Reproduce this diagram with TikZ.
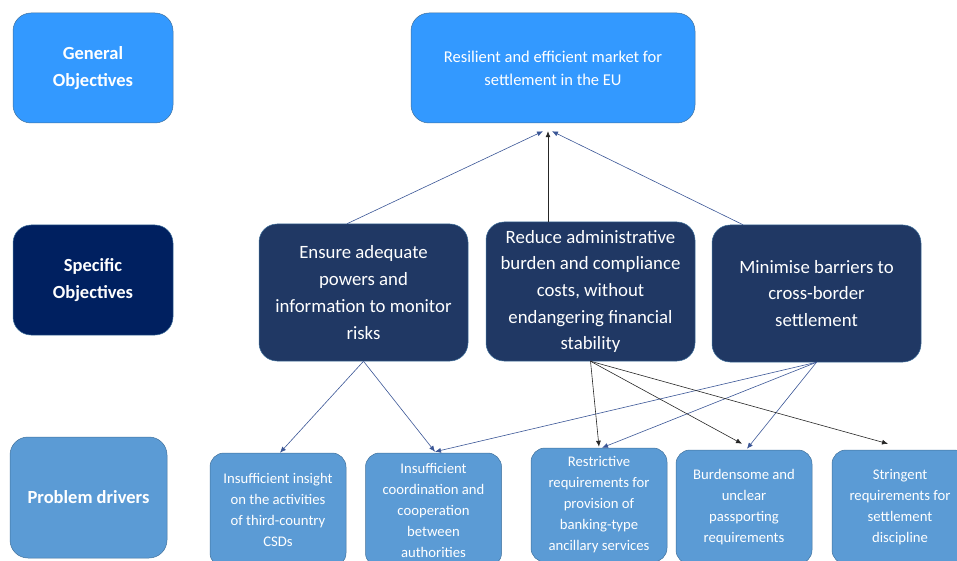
\documentclass[tikz,border=0pt]{standalone}
\usepackage{fontspec}
\setmainfont{Carlito}
\usetikzlibrary{arrows.meta,positioning}
\definecolor{gBlue}{HTML}{3399FF}
\definecolor{sNavy}{HTML}{002060}
\definecolor{sDark}{HTML}{203864}
\definecolor{pBlue}{HTML}{5B9BD5}
\definecolor{lnBlue}{HTML}{3A5696}
\definecolor{lnEdge}{HTML}{41719C}
\definecolor{lnBlack}{HTML}{262626}
\tikzset{
  box/.style={rounded corners=18pt,draw=lnEdge,line width=0.5pt,text=white,align=center,inner sep=0pt},
  levelbox/.style={box,minimum width=160pt,minimum height=110pt,font=\fontsize{18.5}{27}\selectfont\bfseries},
  goalbox/.style={box,fill=gBlue,minimum width=284pt,minimum height=110pt,font=\fontsize{16.5}{23}\selectfont},
  objbox/.style={box,fill=sDark,minimum width=209pt,minimum height=137pt,font=\fontsize{18.8}{26.7}\selectfont},
  drvbox/.style={box,fill=pBlue,rounded corners=14pt,minimum width=136pt,minimum height=114pt,font=\fontsize{14.7}{21}\selectfont},
  bluearr/.style={draw=lnBlue,line width=0.6pt,-{Latex[length=6pt,width=5pt]}},
  blackarr/.style={draw=lnBlack,line width=0.6pt,-{Latex[length=6pt,width=5pt]}}
}
\begin{document}
\begin{tikzpicture}[x=1pt,y=-1pt]
  \useasboundingbox (0,0) rectangle (957,561);
  \clip (0,0) rectangle (957,561);

  \node[levelbox,fill=gBlue] (gen) at (93,68) {General\\Objectives};
  \node[levelbox,fill=sNavy] (spec) at (93,280) {Specific\\Objectives};
  \node[levelbox,fill=pBlue,minimum width=157pt,minimum height=121pt] (drv) at (88.5,497.5) {Problem drivers};

  \node[goalbox] (res) at (553,68) {Resilient and efficient market for\\settlement in the EU};

  \node[objbox] (ens) at (363.5,292.5) {Ensure adequate\\powers and\\information to monitor\\risks};
  \node[objbox,minimum height=139pt] (red) at (590.5,291.5) {Reduce administrative\\burden and compliance\\costs, without\\endangering financial\\stability};
  \node[objbox] (min) at (816.5,293.5) {Minimise barriers to\\cross-border\\settlement};

  \foreach \n/\x/\y/\t in {%
      pda/278/510/{Insufficient insight\\on the activities\\of third-country\\CSDs},
      pdb/433.5/510/{Insufficient\\coordination and\\cooperation\\between\\authorities},
      pdc/599/505/{Restrictive\\requirements for\\provision of\\banking-type\\ancillary services},
      pdd/744/507/{Burdensome and\\unclear\\passporting\\requirements},
      pde/900/507/{Stringent\\requirements for\\settlement\\discipline}}{%
    \node[drvbox] (\n) at (\x,\y) {\t};
  }

  \draw[bluearr] ([xshift=-16.5pt]ens.north) -- ([xshift=-10pt,yshift=-8pt]res.south);
  \draw[blackarr] ([xshift=-42.5pt]red.north) -- ([xshift=-5pt,yshift=-8pt]res.south);
  \draw[bluearr] ([xshift=-73.5pt]min.north) -- ([xshift=-1pt,yshift=-8pt]res.south);

  \draw[bluearr] (ens.south) -- ([xshift=2pt]pda.north);
  \draw[bluearr] (ens.south) -- ([xshift=1.5pt,yshift=1pt]pdb.north);
  \draw[bluearr] (min.south) -- ([xshift=1.5pt,yshift=1pt]pdb.north);
  \draw[bluearr] (min.south) -- ([xshift=3pt]pdc.north);
  \draw[bluearr] (min.south) -- ([xshift=3pt,yshift=1pt]pdd.north);
  \draw[blackarr] (red.south) -- ([yshift=1pt]pdc.north);
  \draw[blackarr] (red.south) -- ([xshift=-2pt,yshift=6pt]pdd.north);
  \draw[blackarr] (red.south) -- ([xshift=-12pt,yshift=6pt]pde.north);
\end{tikzpicture}
\end{document}
